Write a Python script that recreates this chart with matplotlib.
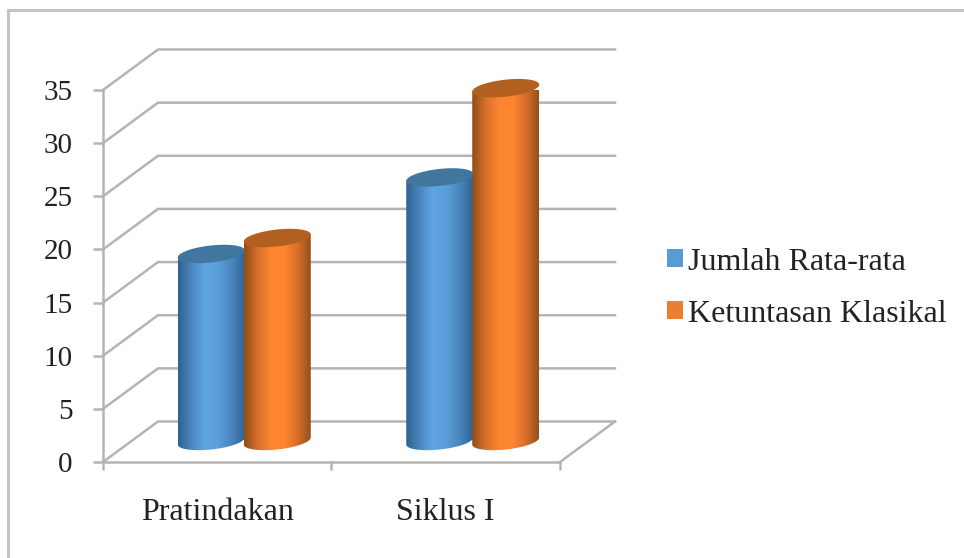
import matplotlib
matplotlib.use('Agg')
import matplotlib.pyplot as plt
import numpy as np
from matplotlib.lines import Line2D
from matplotlib.patches import Patch, Polygon
from matplotlib.colors import LinearSegmentedColormap

# Data
categories = ['Pratindakan', 'Siklus I']
series_names = ['Jumlah Rata-rata', 'Ketuntasan Klasikal']
jumlah_rata = [17.6, 24.8]
ketuntasan = [19.1, 33.2]
y_ticks = [0, 5, 10, 15, 20, 25, 30, 35]

W, H = 964, 558
plt.rcParams['font.family'] = ['Liberation Serif', 'DejaVu Sans']

fig = plt.figure(figsize=(W / 100, H / 100), dpi=100, facecolor='white')
# left, bottom, width, height
ax = fig.add_axes([103 / W, 1 - 462 / H, 457 / W, 372 / H])
ax.set_xlim(0, 2)
ax.set_ylim(0, 35)
ax.patch.set_visible(False)

# size of one pixel in data units
px = 2 / 457
py = 35 / 372
grey = '#b4b4b4'
wall_lw = 1.8

# outer frame
frame = Line2D([8 / W, 8 / W, 1], [0, 1 - 10 / H, 1 - 10 / H], color='#c4c4c4', lw=2.2,
               transform=fig.transFigure)
fig.add_artist(frame)

# fake 3d walls
dx, dy = 55 * px, 40.5 * py
for v in y_ticks:
    ax.plot([0, dx, 2 + dx], [v, v + dy, v + dy], color=grey, lw=wall_lw, clip_on=False,
            zorder=1, solid_joinstyle='miter')
ax.plot([2, 2 + dx], [0, dy], color=grey, lw=wall_lw, clip_on=False, zorder=1)


def cylinder(xc, value, colors, top_color, z):
    a = 33.5 * px
    b = 8.5 * py
    tilt = 3.5 * py
    y0 = 21 * py
    t = np.linspace(0, 2 * np.pi, 121)
    ex = np.cos(t) * a
    ey = np.sin(t) * b + np.cos(t) * tilt

    # body outline: top edge, then the lower half of the base ellipse
    tt = t[60:]
    bx = xc + np.cos(tt) * a
    by = y0 + np.sin(tt) * b + np.cos(tt) * tilt
    pts = [(xc - a, y0 + value - tilt)] + list(zip(bx, by)) + [(xc + a, y0 + value + tilt)]
    clip = Polygon(pts, closed=True, transform=ax.transData, fc='none', ec='none')
    ax.add_patch(clip)

    cmap = LinearSegmentedColormap.from_list('c', colors)
    grad = np.linspace(0, 1, 128).reshape(1, -1)
    im = ax.imshow(grad, cmap=cmap, aspect='auto', zorder=z, interpolation='bilinear',
                   extent=[xc - a, xc + a, 0, y0 + value + b])
    im.set_clip_path(clip)

    ax.fill(xc + ex, y0 + value + ey, color=top_color, lw=0, zorder=z + 0.1, clip_on=False)


blue = ['#2f6290', '#4a86bf', '#5fa5e2', '#5b9fdb', '#4a86bf', '#2f6593']
orange = ['#8f4d1a', '#d8702a', '#fb8531', '#ff8630', '#d8702a', '#93501c']

for i in range(len(categories)):
    cx = i + 0.5 + 27 * px
    cylinder(cx - 33 * px, jumlah_rata[i], blue, '#41779f', 3 + i)
    cylinder(cx + 33 * px, ketuntasan[i], orange, '#b1601f', 3.5 + i)

ax.set_xlim(0, 2)
ax.set_ylim(0, 35)

# axes
for s in ['top', 'right']:
    ax.spines[s].set_visible(False)
for s in ['left', 'bottom']:
    ax.spines[s].set_color(grey)
    ax.spines[s].set_linewidth(wall_lw)
ax.set_yticks(y_ticks)
ax.set_yticklabels([str(v) for v in y_ticks], fontsize=21, color='#222222')
ax.tick_params(axis='y', length=7, width=wall_lw, color=grey, pad=15)
ax.set_xticks([0, 1, 2])
ax.set_xticklabels([])
ax.tick_params(axis='x', which='major', length=6, width=wall_lw, color=grey)
ax.set_xticks([0.5, 1.5], minor=True)
ax.set_xticklabels(categories, minor=True, fontsize=23, color='#222222')
ax.tick_params(axis='x', which='minor', length=0, pad=26)

# legend
handles = [Patch(color='#5b9bd5', lw=0), Patch(color='#ed7d31', lw=0)]
fig.legend(handles, series_names, loc='center left', bbox_to_anchor=(667 / W, 1 - 288 / H),
           frameon=False, fontsize=23, labelcolor='#222222', handlelength=0.5, handleheight=0.5,
           handletextpad=0.17, labelspacing=0.72, borderpad=0, borderaxespad=0)

fig.savefig('out.png', dpi=100)
